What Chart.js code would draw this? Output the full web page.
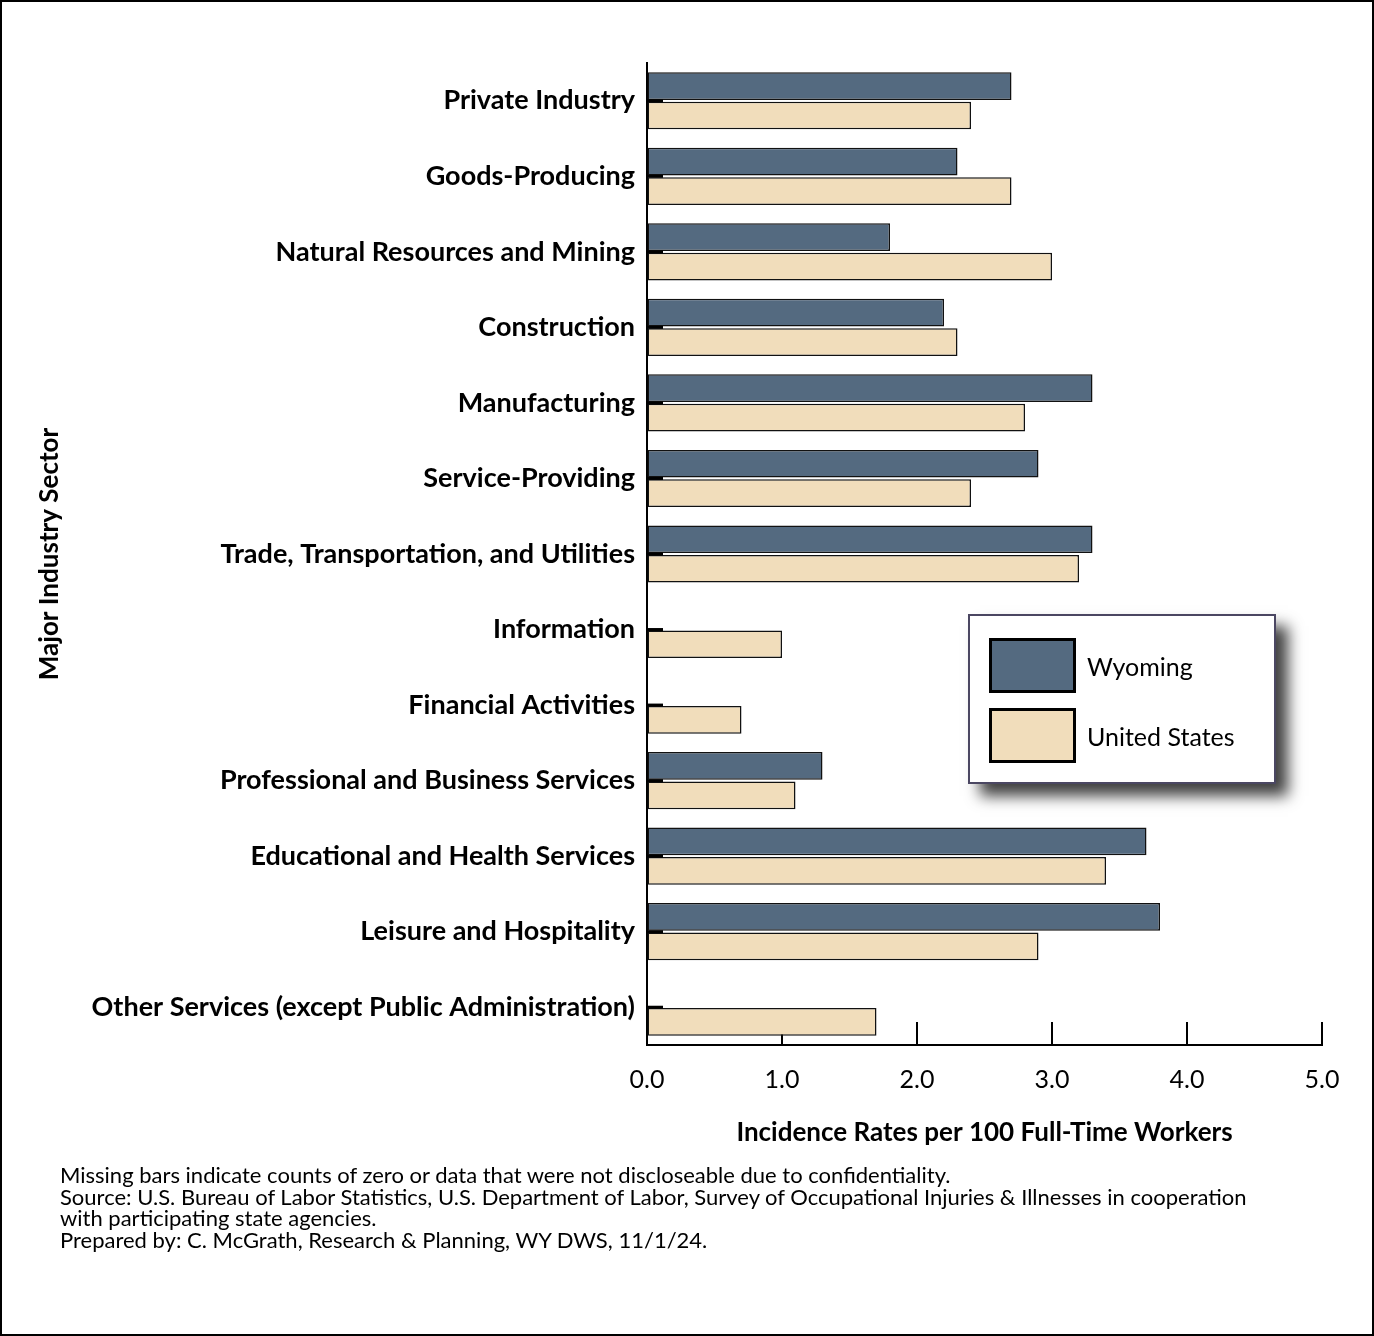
<!DOCTYPE html>
<html lang="en">
<head>
    <meta charset="UTF-8">
    <title>Incidence Rates by Major Industry Sector</title>
    <script src="https://cdn.jsdelivr.net/npm/chart.js"></script>
    <style>
        body { margin: 0; background: #fff; font-family: 'Lato', sans-serif; }
        .page {
            position: relative;
            width: 1374px;
            height: 1336px;
            overflow: hidden;
        }
        .frame {
            position: absolute;
            left: 0; top: 0; right: 0; bottom: 0;
            border: 2px solid #000;
            pointer-events: none;
        }
        canvas { position: absolute; left: 0; top: 0; }
        .legend {
            position: absolute;
            left: 968px; top: 614px;
            width: 304px; height: 166px;
            background: #fff;
            border: 2px solid #4b4762;
            box-shadow: 12px 12px 14px rgba(0, 0, 0, 0.75);
        }
        .legend .item {
            position: absolute;
            left: 19px;
            display: flex;
            align-items: center;
            font-size: 25px;
            color: #000;
        }
        .legend .swatch {
            width: 81px; height: 49px;
            border: 3px solid #000;
            margin-right: 11px;
        }
        .notes {
            position: absolute;
            left: 60px; top: 1164px;
            font-size: 22px;
            line-height: 21.7px;
            color: #000;
        }
    </style>
</head>
<body>
<div class="page">
    <canvas id="chart" width="1374" height="1336"></canvas>
    <div class="legend">
        <div class="item" style="top: 22px;"><div class="swatch" style="background:#546a80"></div>Wyoming</div>
        <div class="item" style="top: 92px;"><div class="swatch" style="background:#f1ddbb"></div>United States</div>
    </div>
    <div class="notes">
        Missing bars indicate counts of zero or data that were not discloseable due to confidentiality.<br>
        Source: U.S. Bureau of Labor Statistics, U.S. Department of Labor, Survey of Occupational Injuries &amp; Illnesses in cooperation<br>
        with participating state agencies.<br>
        Prepared by: C. McGrath, Research &amp; Planning, WY DWS, 11/1/24.
    </div>
    <div class="frame"></div>
</div>

<script>
    const sectors = [
        "Private Industry",
        "Goods-Producing",
        "Natural Resources and Mining",
        "Construction",
        "Manufacturing",
        "Service-Providing",
        "Trade, Transportation, and Utilities",
        "Information",
        "Financial Activities",
        "Professional and Business Services",
        "Educational and Health Services",
        "Leisure and Hospitality",
        "Other Services (except Public Administration)"
    ];
    // null = missing bar (zero or not disclosed)
    const wyoming = [2.7, 2.3, 1.8, 2.2, 3.3, 2.9, 3.3, null, null, 1.3, 3.7, 3.8, null];
    const unitedStates = [2.4, 2.7, 3.0, 2.3, 2.8, 2.4, 3.2, 1.0, 0.7, 1.1, 3.4, 2.9, 1.7];
    const xTicks = [0, 1, 2, 3, 4, 5];

    // inward tick marks like the original (drawn with the scales' own pixel positions)
    const innerTicks = {
        id: 'innerTicks',
        afterDatasetsDraw(chart) {
            const ctx = chart.ctx;
            const y = chart.scales.y;
            const area = chart.chartArea;
            ctx.save();
            ctx.strokeStyle = '#000';
            ctx.lineWidth = 3;
            sectors.forEach((s, i) => {
                const py = y.getPixelForTick(i);
                ctx.beginPath();
                ctx.moveTo(area.left, py);
                ctx.lineTo(area.left + 16, py);
                ctx.stroke();
            });
            ctx.restore();
        },
        beforeDatasetsDraw(chart) {
            const ctx = chart.ctx;
            const x = chart.scales.x;
            const area = chart.chartArea;
            ctx.save();
            ctx.strokeStyle = '#000';
            ctx.lineWidth = 2;
            xTicks.slice(1).forEach(v => {
                const px = x.getPixelForValue(v);
                ctx.beginPath();
                ctx.moveTo(px, area.bottom);
                ctx.lineTo(px, area.bottom - 23);
                ctx.stroke();
            });
            ctx.restore();
        }
    };

    new Chart(document.getElementById('chart'), {
        type: 'bar',
        data: {
            labels: sectors,
            datasets: [
                {
                    label: 'Wyoming',
                    data: wyoming,
                    backgroundColor: '#546a80',
                    borderColor: '#111',
                    borderWidth: 1.5,
                    borderSkipped: false,
                    barPercentage: 0.94,
                    categoryPercentage: 0.78
                },
                {
                    label: 'United States',
                    data: unitedStates,
                    backgroundColor: '#f1ddbb',
                    borderColor: '#111',
                    borderWidth: 1.5,
                    borderSkipped: false,
                    barPercentage: 0.94,
                    categoryPercentage: 0.78
                }
            ]
        },
        options: {
            indexAxis: 'y',
            responsive: false,
            animation: false,
            layout: { padding: { left: 30, top: 63, right: 52, bottom: 184 } },
            plugins: {
                legend: { display: false },
                tooltip: { enabled: false }
            },
            scales: {
                x: {
                    min: 0,
                    max: 5,
                    afterBuildTicks: (scale) => { scale.ticks = xTicks.map(v => ({ value: v })); },
                    afterFit: (scale) => { scale.height = 107; },
                    grid: { display: true, drawOnChartArea: false, drawTicks: false },
                    border: { display: true, color: '#000', width: 2 },
                    ticks: {
                        padding: 20,
                        color: '#000',
                        font: { family: 'Lato', size: 25 },
                        callback: (v) => Number(v).toFixed(1)
                    },
                    title: {
                        display: true,
                        text: 'Incidence Rates per 100 Full-Time Workers',
                        color: '#000',
                        font: { family: 'Lato', size: 26, weight: 'bold' },
                        padding: { top: 4, bottom: 4 }
                    }
                },
                y: {
                    afterFit: (scale) => { scale.width = 617; },
                    grid: { display: true, drawOnChartArea: false, drawTicks: false },
                    border: { display: true, color: '#000', width: 2 },
                    ticks: {
                        padding: 12,
                        color: '#000',
                        font: { family: 'Lato', size: 27, weight: 'bold' }
                    },
                    title: {
                        display: true,
                        text: 'Major Industry Sector',
                        color: '#000',
                        font: { family: 'Lato', size: 26, weight: 'bold' },
                        padding: { top: 4, bottom: 4 }
                    }
                }
            }
        },
        plugins: [innerTicks]
    });
</script>
</body>
</html>
